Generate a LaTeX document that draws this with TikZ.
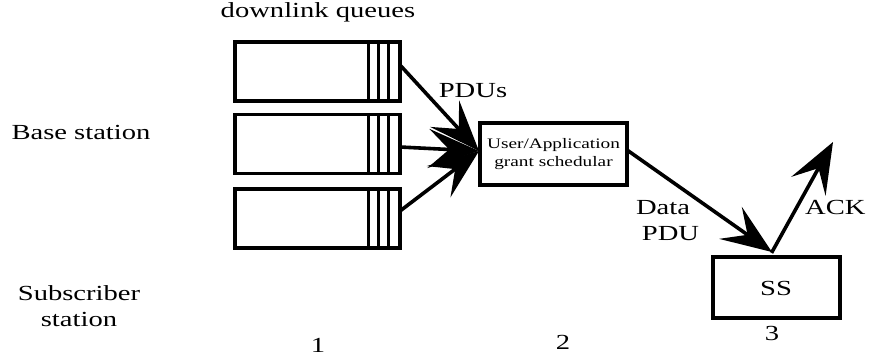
\documentclass[tikz,border=0pt]{standalone}
\usepackage{fontspec}
\setmainfont{Liberation Serif}[FakeStretch=1.33]
\usetikzlibrary{arrows.meta}

\tikzset{
  box/.style={draw, line width=3.5pt, inner sep=0pt, outer sep=0pt},
  queue/.style={box, minimum width=165pt, minimum height=59pt},
  slot/.style={line width=3pt},
  flow/.style={line width=3.6pt, -{Stealth[length=44pt 0, width=34pt 0, inset=18pt 0, scale=1.15]}},
  lbl/.style={font=\fontsize{21.5}{26}\selectfont, inner sep=0pt, anchor=base},
  small/.style={font=\fontsize{14.5}{18}\selectfont, align=center, inner sep=0pt}
}

\begin{document}
\begin{tikzpicture}[x=1pt, y=-1pt]
  \useasboundingbox (0,0) rectangle (872,360);

  % downlink queues
  \node[queue] (q1) at (317.5,71.5) {};
  \node[queue] (q2) at (317.5,144) {};
  \node[queue] (q3) at (317.5,218.5) {};
  \foreach \q in {q1,q2,q3} {
    \foreach \dx in {-32,-22,-12} {
      \draw[slot] ([xshift=\dx pt]\q.north east) -- ([xshift=\dx pt]\q.south east);
    }
  }

  % scheduler and subscriber station
  \node[box, minimum width=147pt, minimum height=62pt] (sched) at (553.5,154) {};
  \node[small] (schedtxt) at (sched.center) {User/Application\\grant schedular};
  \node[box, minimum width=127pt, minimum height=61pt] (ss) at (776.5,287.5) {};
  \node[lbl] (sstxt) at (776,295) {SS};

  % connector end points
  \coordinate (q1out) at (400,65);
  \coordinate (q2out) at (400,147);
  \coordinate (q3out) at (400,211);
  \coordinate (hub) at (479,151);
  \coordinate (schedout) at (627,150);
  \coordinate (ssin) at (772,252);
  \coordinate (ackend) at (833,142);

  \draw[flow] (q1out) -- (hub);
  \draw[flow] (q2out) -- (hub);
  \draw[flow] (q3out) -- (hub);
  \draw[flow] (schedout) -- (ssin);
  \draw[flow, shorten <=-1pt] (ssin) -- (ackend);

  % labels
  \node[lbl] (title) at (318,17) {downlink queues};
  \node[lbl] (bs) at (81,139) {Base station};
  \node[lbl, align=center, anchor=base] (sub) at (79,326) {Subscriber\\station};
  \node[lbl] (pdus) at (473,97) {PDUs};
  \node[lbl, align=center] (data) at (663,240) {Data\\\hspace*{15pt}PDU};
  \node[lbl, anchor=base west] (ack) at (805,214) {ACK};
  \node[lbl] (n1) at (318,352) {1};
  \node[lbl] (n2) at (563,349) {2};
  \node[lbl] (n3) at (772,340) {3};
\end{tikzpicture}
\end{document}
